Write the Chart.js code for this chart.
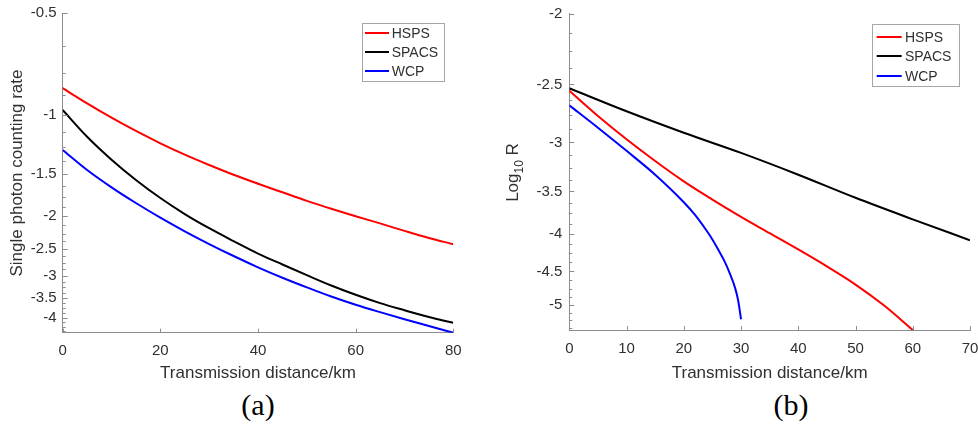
<!DOCTYPE html>
<html>
<head>
<meta charset="utf-8">
<script src="https://cdn.jsdelivr.net/npm/chart.js@4.4.0/dist/chart.umd.min.js"></script>
<style>
  body { margin: 0; background: #fff; width: 978px; height: 426px; overflow: hidden; position: relative; }
  .panel { position: absolute; top: 0; height: 388px; }
  #panelA { left: 0; width: 490px; }
  #panelB { left: 490px; width: 488px; }
  .cap { position: absolute; top: 390px; width: 120px; text-align: center;
         font: 30px/30px "Liberation Serif", "Times New Roman", serif; color: #000; }
</style>
</head>
<body>
<div class="panel" id="panelA"><canvas id="chartA" width="490" height="388"></canvas></div>
<div class="panel" id="panelB"><canvas id="chartB" width="488" height="388"></canvas></div>
<div class="cap" style="left:198px">(a)</div>
<div class="cap" style="left:731px">(b)</div>

<script>
const seriesNames = ['HSPS', 'SPACS', 'WCP'];
const seriesColors = ['#ff0000', '#000000', '#0000ff'];

// (a) single photon counting rate vs distance
const distA = [0, 5, 10, 15, 20, 25, 30, 35, 40, 45, 50, 55, 60, 65, 70, 75, 80];
const hspsA = [-0.834, -0.925, -1.020, -1.117, -1.215, -1.313, -1.409, -1.506, -1.601, -1.698, -1.80, -1.90, -2.00, -2.10, -2.21, -2.32, -2.42];
const spacsA = [-0.968, -1.162, -1.359, -1.561, -1.766, -1.97, -2.17, -2.37, -2.58, -2.78, -2.99, -3.21, -3.42, -3.62, -3.80, -3.98, -4.14];
const wcpA = [-1.272, -1.458, -1.641, -1.827, -2.02, -2.217, -2.418, -2.624, -2.834, -3.043, -3.25, -3.46, -3.66, -3.85, -4.04, -4.23, -4.43];
const yTicksA = [-0.5, -1, -1.5, -2, -2.5, -3, -3.5, -4];
const xTicksA = [0, 20, 40, 60, 80];

// (b) Log10 R vs distance
const distB_hsps = [0, 5, 10, 15, 20, 25, 30, 35, 40, 45, 50, 55, 60];
const hspsB = [-2.55, -2.76, -2.97, -3.18, -3.39, -3.59, -3.79, -3.99, -4.20, -4.43, -4.69, -5.01, -5.41];
const distB_spacs = [0, 10, 20, 30, 40, 50, 60, 70];
const spacsB = [-2.53, -2.72, -2.91, -3.10, -3.32, -3.57, -3.82, -4.08];
const distB_wcp = [0, 5, 10, 15, 20, 22, 24, 25, 26, 27, 28, 29, 29.5, 30];
const wcpB = [-2.67, -2.864, -3.08, -3.32, -3.62, -3.77, -3.96, -4.07, -4.20, -4.34, -4.52, -4.75, -4.93, -5.23];
const yTicksB = [-2, -2.5, -3, -3.5, -4, -4.5, -5];
const xTicksB = [0, 10, 20, 30, 40, 50, 60, 70];

const FONT = '"Liberation Sans", Arial, sans-serif';
const AXIS_GRAY = '#8c8c8c';
const TEXT = '#303030';

function toPoints(xs, ys) {
  // axis is log of |value|, labels carry the minus sign
  return xs.map((x, i) => ({ x: x, y: -ys[i] }));
}

function yTickList(majors, lo, hi) {
  const vals = majors.map(v => -v);
  for (let v = lo; v <= hi + 1e-9; v += 0.125) {
    if (!vals.includes(v)) vals.push(v);
  }
  return vals.map(v => ({ value: v }));
}

const inwardTicks = {
  id: 'inwardTicks',
  afterDatasetsDraw(chart) {
    const { ctx, chartArea: a, scales: { x, y } } = chart;
    ctx.save();
    ctx.strokeStyle = AXIS_GRAY;
    ctx.lineWidth = 1;
    ctx.beginPath();
    x.ticks.forEach(t => {
      const px = Math.round(x.getPixelForValue(t.value)) + 0.5;
      ctx.moveTo(px, a.bottom);
      ctx.lineTo(px, a.bottom - 4);
    });
    y.ticks.forEach(t => {
      const py = Math.round(y.getPixelForValue(t.value)) + 0.5;
      const len = t.label === '' ? 3 : 5;
      ctx.moveTo(a.left, py);
      ctx.lineTo(a.left + len, py);
    });
    ctx.stroke();
    ctx.restore();
  }
};

const boxLegend = {
  id: 'boxLegend',
  afterDraw(chart, args, o) {
    const ctx = chart.ctx;
    ctx.save();
    ctx.fillStyle = '#fff';
    ctx.fillRect(o.x, o.y, o.w, o.h);
    ctx.strokeStyle = '#a6a6a6';
    ctx.lineWidth = 1;
    ctx.strokeRect(Math.round(o.x) + 0.5, Math.round(o.y) + 0.5, Math.round(o.w), Math.round(o.h));
    ctx.font = '14px ' + FONT;
    ctx.textBaseline = 'middle';
    chart.data.datasets.forEach((ds, i) => {
      const cy = Math.round(o.y + o.first + i * o.row);
      ctx.strokeStyle = ds.borderColor;
      ctx.lineWidth = 2;
      ctx.beginPath();
      ctx.moveTo(o.x + o.lineX, cy);
      ctx.lineTo(o.x + o.lineX + o.lineLen, cy);
      ctx.stroke();
      ctx.fillStyle = TEXT;
      ctx.fillText(ds.label, o.x + o.textX, cy + 1);
    });
    ctx.restore();
  }
};

const logTitle = {
  id: 'logTitle',
  afterDraw(chart) {
    const ctx = chart.ctx;
    ctx.save();
    ctx.translate(23.5, 172.5);
    ctx.rotate(-Math.PI / 2);
    ctx.fillStyle = TEXT;
    ctx.textBaseline = 'middle';
    ctx.font = '17px ' + FONT;
    const w1 = ctx.measureText('Log').width;
    const w3 = ctx.measureText(' R').width;
    ctx.font = '12px ' + FONT;
    const w2 = ctx.measureText('10').width;
    let x0 = -(w1 + w2 + w3) / 2;
    ctx.font = '17px ' + FONT;
    ctx.fillText('Log', x0, 0);
    ctx.font = '12px ' + FONT;
    ctx.fillText('10', x0 + w1, 6);
    ctx.font = '17px ' + FONT;
    ctx.fillText(' R', x0 + w1 + w2, 0);
    ctx.restore();
  }
};

function makeDatasets(xsList, ysList) {
  return seriesNames.map((name, i) => ({
    label: name,
    data: toPoints(xsList[i], ysList[i]),
    borderColor: seriesColors[i],
    borderWidth: 2,
    pointRadius: 0,
    fill: false,
    cubicInterpolationMode: 'monotone'
  }));
}

function makeOptions(s) {
  return {
    responsive: false,
    animation: false,
    layout: { padding: s.padding },
    plugins: {
      legend: { display: false },
      tooltip: { enabled: false },
      boxLegend: s.legend
    },
    scales: {
      x: {
        type: 'linear',
        min: s.xMin, max: s.xMax,
        afterBuildTicks: sc => { sc.ticks = s.xTicks.map(v => ({ value: v })); },
        afterFit: sc => { sc.height = s.xHeight; sc.paddingLeft = 0; sc.paddingRight = 0; },
        grid: { display: false, drawTicks: false },
        border: { display: true, color: AXIS_GRAY, width: 1 },
        ticks: { autoSkip: false, maxRotation: 0, padding: s.xPad, color: TEXT, font: { family: FONT, size: 15 } },
        title: { display: true, text: 'Transmission distance/km', color: TEXT, font: { family: FONT, size: 17 }, padding: { top: 4, bottom: 4 } }
      },
      y: {
        type: 'logarithmic',
        reverse: true,
        min: s.yMin, max: s.yMax,
        afterBuildTicks: sc => { sc.ticks = yTickList(s.yTicks, s.yMin, s.yMax); },
        afterFit: sc => { sc.width = s.yWidth; sc.paddingTop = 0; sc.paddingBottom = 0; },
        grid: { display: false, drawTicks: false },
        border: { display: true, color: AXIS_GRAY, width: 1 },
        ticks: {
          autoSkip: false, padding: s.yPad, color: TEXT, font: { family: FONT, size: 15 },
          callback: v => s.yTicks.includes(-v) ? String(-v) : ''
        },
        title: { display: !!s.yTitle, text: s.yTitle || '', color: TEXT, font: { family: FONT, size: 17 }, padding: { top: 4, bottom: 4 } }
      }
    }
  };
}

new Chart(document.getElementById('chartA'), {
  type: 'line',
  data: { datasets: makeDatasets([distA, distA, distA], [hspsA, spacsA, wcpA]) },
  options: makeOptions({
    padding: { left: 3, right: 36.7, top: 13.3, bottom: 0 },
    xMin: 0, xMax: 80, xTicks: xTicksA, xHeight: 55.3, xPad: 9,
    yMin: 0.5, yMax: 4.43, yTicks: yTicksA, yWidth: 59.7, yPad: 6,
    yTitle: 'Single photon counting rate',
    legend: { x: 361.7, y: 22.7, w: 81.6, h: 58.3, first: 10.6, row: 19, lineX: 3.3, lineLen: 24, textX: 30 }
  }),
  plugins: [inwardTicks, boxLegend]
});

new Chart(document.getElementById('chartB'), {
  type: 'line',
  data: { datasets: makeDatasets([distB_hsps, distB_spacs, distB_wcp], [hspsB, spacsB, wcpB]) },
  options: makeOptions({
    padding: { left: 0, right: 8, top: 13.5, bottom: 0 },
    xMin: 0, xMax: 70, xTicks: xTicksB, xHeight: 58, xPad: 10,
    yMin: 2, yMax: 5.41, yTicks: yTicksB, yWidth: 79.3, yPad: 7,
    yTitle: '',
    legend: { x: 382.3, y: 24.3, w: 87, h: 62.4, first: 12.4, row: 19.5, lineX: 4.4, lineLen: 25, textX: 32.7 }
  }),
  plugins: [inwardTicks, boxLegend, logTitle]
});
</script>
</body>
</html>
